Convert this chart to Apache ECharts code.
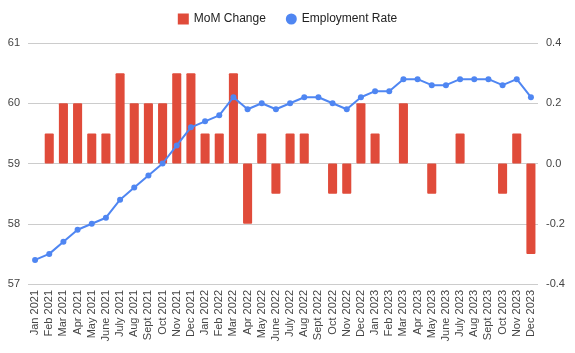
<!DOCTYPE html>
<html><head><meta charset="utf-8">
<script src="https://cdn.jsdelivr.net/npm/echarts@6/dist/echarts.min.js"></script>
<style>html,body{margin:0;padding:0;background:#fff}#c{width:575px;height:353px}</style>
</head><body><div id="c"></div>
<script>
var categories = ["Jan 2021","Feb 2021","Mar 2021","Apr 2021","May 2021","June 2021","July 2021","Aug 2021","Sept 2021","Oct 2021","Nov 2021","Dec 2021",
"Jan 2022","Feb 2022","Mar 2022","Apr 2022","May 2022","June 2022","July 2022","Aug 2022","Sept 2022","Oct 2022","Nov 2022","Dec 2022",
"Jan 2023","Feb 2023","Mar 2023","Apr 2023","May 2023","June 2023","July 2023","Aug 2023","Sept 2023","Oct 2023","Nov 2023","Dec 2023"];
var momChange = [0,0.1,0.2,0.2,0.1,0.1,0.3,0.2,0.2,0.2,0.3,0.3,
0.1,0.1,0.3,-0.2,0.1,-0.1,0.1,0.1,0,-0.1,-0.1,0.2,
0.1,0,0.2,0,-0.1,0,0.1,0,0,-0.1,0.1,-0.3];
var employmentRate = [57.4,57.5,57.7,57.9,58.0,58.1,58.4,58.6,58.8,59.0,59.3,59.6,
59.7,59.8,60.1,59.9,60.0,59.9,60.0,60.1,60.1,60.0,59.9,60.1,
60.2,60.2,60.4,60.4,60.3,60.3,60.4,60.4,60.4,60.3,60.4,60.1];
var leftTicks = {min:57,max:61,interval:1};
var rightTicks = {min:-0.4,max:0.4,interval:0.2};

var chart = echarts.init(document.getElementById('c'));
var txt = {color:'#444', fontSize:11, fontFamily:'Liberation Sans, Arial, sans-serif'};
chart.setOption({
  animation:false,
  legend:{top:8,left:'center',itemGap:20,itemWidth:11,itemHeight:11,
    textStyle:{color:'#222',fontSize:12,fontFamily:'Liberation Sans, Arial, sans-serif'},
    data:[{name:'MoM Change',icon:'rect'},{name:'Employment Rate',icon:'circle'}]},
  grid:{left:28,right:37,top:43,bottom:69},
  xAxis:{type:'category',data:categories,boundaryGap:true,
    axisLine:{show:false},axisTick:{show:false},
    axisLabel:Object.assign({rotate:90,interval:0,margin:6},txt)},
  yAxis:[
    {type:'value',min:leftTicks.min,max:leftTicks.max,interval:leftTicks.interval,position:'left',
     axisLabel:Object.assign({margin:8},txt),splitLine:{lineStyle:{color:'#ccc'}},axisLine:{show:false},axisTick:{show:false}},
    {type:'value',min:rightTicks.min,max:rightTicks.max,interval:rightTicks.interval,position:'right',
     axisLabel:Object.assign({margin:8,formatter:function(v){return v.toFixed(1);}},txt),splitLine:{show:false},axisLine:{show:false},axisTick:{show:false}}
  ],
  series:[
    {name:'MoM Change',type:'bar',yAxisIndex:1,data:momChange,barWidth:'64%',
     itemStyle:{color:'#e04b3a',borderRadius:1}},
    {name:'Employment Rate',type:'line',yAxisIndex:0,data:employmentRate,
     symbol:'circle',symbolSize:6,lineStyle:{width:2,color:'#4f86f2'},itemStyle:{color:'#4f86f2'}}
  ]
});
</script></body></html>
